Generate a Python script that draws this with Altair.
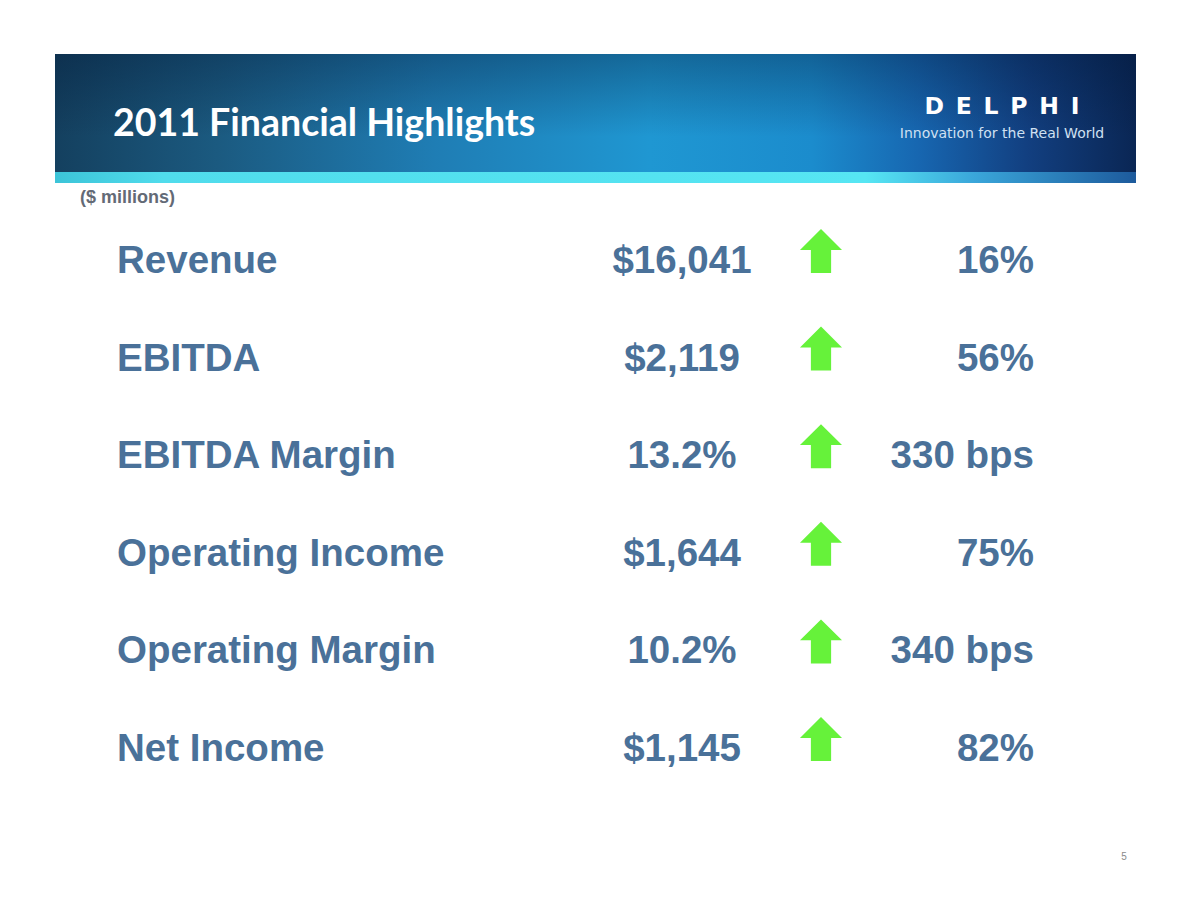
import altair as alt
import pandas as pd

# ---- content ----
metrics = ["Revenue", "EBITDA", "EBITDA Margin", "Operating Income", "Operating Margin", "Net Income"]
values = ["$16,041", "$2,119", "13.2%", "$1,644", "10.2%", "$1,145"]
changes = ["16%", "56%", "330 bps", "75%", "340 bps", "82%"]
directions = ["up", "up", "up", "up", "up", "up"]

title_text = "2011 Financial Highlights"
units_text = "($ millions)"
brand_text = "D\u2002E\u2002L\u2002P\u2002H\u2002I"
tagline_text = "Innovation for the Real World"
page_text = "5"

df = pd.DataFrame({"metric": metrics, "value": values, "change": changes, "direction": directions})
one = pd.DataFrame({"k": [0]})

W, H = 1174, 903
O = 8


def px(v):
    return v - O


TEXT_BLUE = "#4a7199"
ARROW_GREEN = "#66f23a"
FONT = "Liberation Sans"

# ---- banner ----
banner = alt.Chart(one).mark_rect(
    color={
        "gradient": "linear", "x1": 0, "y1": 0, "x2": 1, "y2": 0,
        "stops": [
            {"offset": 0.0, "color": "#14405f"},
            {"offset": 0.15, "color": "#1b5a80"},
            {"offset": 0.35, "color": "#1f7db4"},
            {"offset": 0.55, "color": "#1f97d2"},
            {"offset": 0.7, "color": "#1b8ccd"},
            {"offset": 0.8, "color": "#1766b0"},
            {"offset": 0.9, "color": "#123f80"},
            {"offset": 1.0, "color": "#0a2654"},
        ],
    }
).encode(x=alt.value(px(55)), x2=alt.value(px(1136)), y=alt.value(px(54)), y2=alt.value(px(172)))

shade = alt.Chart(one).mark_rect(
    color={
        "gradient": "linear", "x1": 0, "y1": 0, "x2": 0, "y2": 1,
        "stops": [
            {"offset": 0.0, "color": "rgba(0,20,50,0.35)"},
            {"offset": 0.7, "color": "rgba(0,20,50,0.0)"},
            {"offset": 1.0, "color": "rgba(0,20,50,0.0)"},
        ],
    }
).encode(x=alt.value(px(55)), x2=alt.value(px(1136)), y=alt.value(px(54)), y2=alt.value(px(172)))

strip = alt.Chart(one).mark_rect(
    color={
        "gradient": "linear", "x1": 0, "y1": 0, "x2": 1, "y2": 0,
        "stops": [
            {"offset": 0.0, "color": "#3cc4d8"},
            {"offset": 0.1, "color": "#50dcec"},
            {"offset": 0.75, "color": "#56e6f3"},
            {"offset": 0.85, "color": "#3aa6da"},
            {"offset": 1.0, "color": "#1d5a9c"},
        ],
    }
).encode(x=alt.value(px(55)), x2=alt.value(px(1136)), y=alt.value(px(172)), y2=alt.value(px(183)))

title = alt.Chart(one).mark_text(
    text=title_text, align="left", baseline="alphabetic", font="Lato", fontWeight="bold",
    fontSize=37.5, color="white"
).encode(x=alt.value(px(113)), y=alt.value(px(136)))

brand = alt.Chart(one).mark_text(
    text=brand_text, align="center", baseline="alphabetic", font="DejaVu Sans", fontWeight="bold",
    fontSize=23.5, color="white"
).encode(x=alt.value(px(1002)), y=alt.value(px(114)))

tagline = alt.Chart(one).mark_text(
    text=tagline_text, align="center", baseline="alphabetic", font="DejaVu Sans",
    fontSize=14, color="#cfe0f2"
).encode(x=alt.value(px(1002)), y=alt.value(px(138)))

units = alt.Chart(one).mark_text(
    text=units_text, align="left", baseline="alphabetic", font=FONT, fontWeight="bold",
    fontSize=18, color="#636a76"
).encode(x=alt.value(px(80)), y=alt.value(px(203)))

page = alt.Chart(one).mark_text(
    text=page_text, align="center", baseline="alphabetic", font=FONT,
    fontSize=10, color="#8a8a8a"
).encode(x=alt.value(px(1124)), y=alt.value(px(860)))

# ---- rows ----
ybase = alt.Y(
    "metric:N", sort=metrics,
    scale=alt.Scale(type="point", range=[px(273), px(761)], padding=0),
    axis=None,
)

labels = alt.Chart(df).mark_text(
    align="left", baseline="alphabetic", font=FONT, fontWeight="bold", fontSize=38.5, color=TEXT_BLUE
).encode(x=alt.value(px(117)), y=ybase, text="metric:N")

vals = alt.Chart(df).mark_text(
    align="center", baseline="alphabetic", font=FONT, fontWeight="bold", fontSize=38.5, color=TEXT_BLUE
).encode(x=alt.value(px(682)), y=ybase, text="value:N")

chg = alt.Chart(df).mark_text(
    align="right", baseline="alphabetic", font=FONT, fontWeight="bold", fontSize=38.5, color=TEXT_BLUE
).encode(x=alt.value(px(1034)), y=ybase, text="change:N")

arrow_path = "M0,-1 L0.955,-0.05 L0.46,-0.05 L0.46,1 L-0.46,1 L-0.46,-0.05 L-0.955,-0.05 Z"
arrows = alt.Chart(df).mark_point(
    shape=arrow_path, size=1936, filled=True, color=ARROW_GREEN, opacity=1, strokeWidth=0, yOffset=-22
).encode(x=alt.value(px(821)), y=ybase)

chart = alt.layer(
    banner, shade, strip, title, brand, tagline, units, page, labels, vals, chg, arrows
).properties(
    width=W, height=H, autosize="none", padding=0, background="white"
).configure_view(strokeWidth=0)

chart.save("out.html", embed_options={"renderer": "svg", "actions": False})
